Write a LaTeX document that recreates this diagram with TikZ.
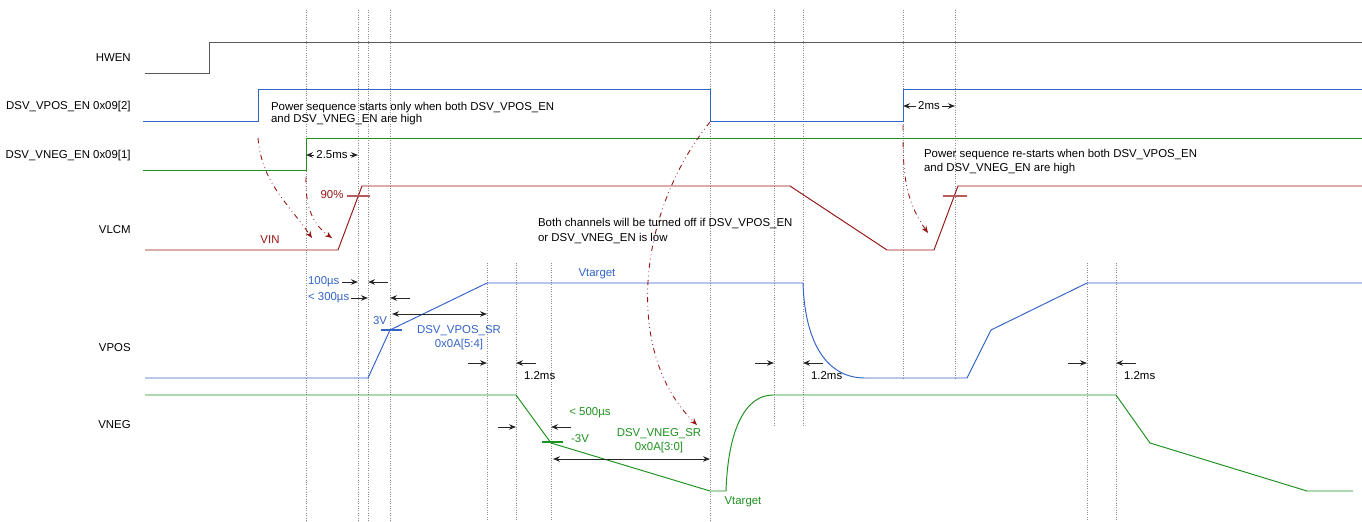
\documentclass[tikz,border=0pt]{standalone}
\usepackage{fontspec}
\setmainfont{Liberation Sans}
\usepackage{tikz}
\usetikzlibrary{arrows.meta}
\definecolor{hwG}{RGB}{90,90,90}
\definecolor{posB}{RGB}{50,100,200}
\definecolor{negG}{RGB}{30,145,30}
\definecolor{lcmR}{RGB}{150,20,20}

\begin{document}
\begin{tikzpicture}[x=0.02cm, y=-0.02cm, font=\fontsize{6.5}{8}\selectfont,
  >={Stealth[length=1.4mm, width=1.1mm]},
  wave/.style={line width=0.55pt},
  guide/.style={draw=black!45, densely dotted, line width=0.35pt},
  dim/.style={->, draw=black!85, line width=0.55pt},
  hint/.style={->, draw=lcmR, dash dot dot, line width=0.5pt},
  lvl/.style={line width=0.6pt},
  txt/.style={inner sep=1pt}]
  \useasboundingbox (0,0) rectangle (1362,521);
  % signal names
  \foreach \n/\y/\lab in {hwen/58/HWEN, posen/107/DSV\_VPOS\_EN 0x09[2],
      negen/156/DSV\_VNEG\_EN 0x09[1], vlcm/230/VLCM, vpos/348/VPOS, vneg/425/VNEG}
     \node[anchor=east, inner sep=0pt] (\n) at (131,\y) {\lab};
  % time marks
  \foreach \x/\a/\b in {306/10/521, 358/10/521, 368/10/521, 390/10/521, 710/10/521,
      487/263/521, 516/263/521, 551/263/521, 1087/263/521, 1116/263/521,
      774/10/426, 803/10/426, 903/10/378, 955/10/378}
     \draw[guide] (\x,\a) -- (\x,\b);

  % enables
  \draw[wave, hwG] (145,73) -- (209,73) -- (209,42) -- (1362,42);
  \draw[wave, posB] (143,121) -- (258,121) -- (258,89) -- (710,89) -- (710,121)
     -- (903,121) -- (903,89) -- (1362,89);
  \draw[wave, negG] (143,170) -- (306,170) -- (306,138) -- (1362,138);
  % rails
  \draw[wave, lcmR] (145,250) -- (338,250) -- (362,186) -- (790,186) -- (887,250)
     -- (934,250) -- (958,186) -- (1362,186);
  \draw[wave, posB] (145,378) -- (368,378) -- (390,330) -- (487,283) -- (803,283)
     .. controls (805,345) and (828,378) .. (865,378) -- (967,378) -- (991,330)
     -- (1087,283) -- (1362,283);
  \draw[wave, negG] (145,395) -- (516,395) -- (551,443) -- (710,491) -- (726,491)
     .. controls (728,430) and (745,395) .. (773,395) -- (1116,395) -- (1150,443)
     -- (1307,491) -- (1353,491);

  % notes
  \node[txt, anchor=west, align=left] (note1) at (269,114)
    {Power sequence starts only when both DSV\_VPOS\_EN\\[-1.2pt]and DSV\_VNEG\_EN are high};
  \node[txt, anchor=west, align=left] (note2) at (536,231)
    {Both channels will be turned off if DSV\_VPOS\_EN\\or DSV\_VNEG\_EN is low};
  \node[txt, anchor=west, align=left] (note3) at (922,162)
    {Power sequence re-starts when both DSV\_VPOS\_EN\\and DSV\_VNEG\_EN are high};
  \draw[hint] (258,138) to[out=-85, in=125] (312,238);
  \draw[hint] (306,177) to[out=-92, in=145] (332,238);
  \draw[hint] (710,122) .. controls (635,215) and (625,355) .. (697,425);
  \draw[hint] (903,125) to[out=-90, in=125] (928,233);

  % enable delays
  \node[txt] (d25) at (332,155) {2.5ms};
  \draw[dim] (d25) -- (306,155); \draw[dim] (d25) -- (358,155);
  \node[txt] (d2) at (929,106) {2ms};
  \draw[dim] (d2) -- (903,106); \draw[dim] (d2) -- (955,106);

  % VLCM levels
  \node[txt, text=lcmR] (p90) at (332,195) {90\%};
  \node[txt, text=lcmR] (vin) at (270,240) {VIN};
  \draw[lcmR!70, lvl] (347,196) -- (370,196);
  \draw[lcmR!70, lvl] (943,196) -- (967,196);

  % VPOS timing
  \node[txt, text=posB, anchor=west] (t100) at (306,282) {100µs};
  \draw[dim] (t100) -- (358,282); \draw[dim] (388,282) -- (368,282);
  \node[txt, text=posB, anchor=west] (t300) at (306,298) {< 300µs};
  \draw[dim] (t300) -- (368,298); \draw[dim] (410,298) -- (390,298);
  \draw[dim, <->] (392,314) -- (487,314);
  \node[txt, text=posB] (v3p) at (380,321) {3V};
  \draw[posB, lvl] (381,330) -- (402,330);
  \node[txt, text=posB, align=center] (possr) at (459,338) {DSV\_VPOS\_SR\\0x0A[5:4]};
  \node[txt, text=posB] (tgtp) at (597,274) {Vtarget};
  \foreach \a/\b/\n in {487/516/ms1, 774/803/ms2, 1087/1116/ms3} {
     \draw[dim] (\a-19,363) -- (\a,363);
     \draw[dim] (\b+20,363) -- (\b,363);
     \node[txt, anchor=west] (\n) at (\b+6,376) {1.2ms};}

  % VNEG timing
  \draw[dim] (498,427) -- (516,427); \draw[dim] (571,427) -- (551,427);
  \node[txt, text=negG] (t500) at (590,413) {< 500µs};
  \node[txt, text=negG] (v3n) at (580,439) {-3V};
  \draw[negG, lvl] (542,442) -- (563,442);
  \node[txt, text=negG, align=center] (negsr) at (659,441) {DSV\_VNEG\_SR\\0x0A[3:0]};
  \draw[dim, <->] (553,459) -- (710,459);
  \node[txt, text=negG] (tgtn) at (743,502) {Vtarget};
\end{tikzpicture}
\end{document}
